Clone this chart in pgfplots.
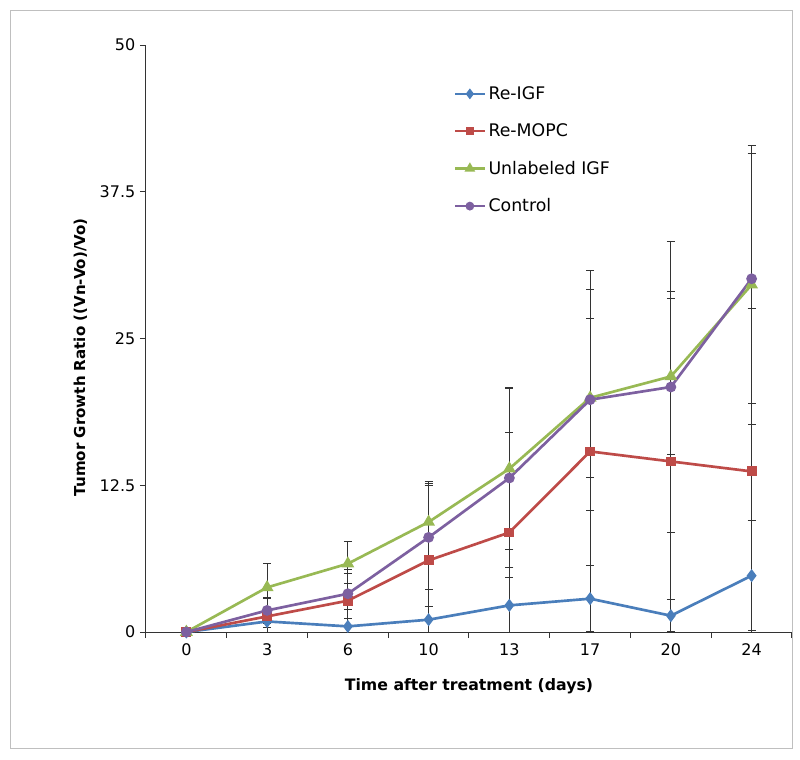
\documentclass[border=0pt]{standalone}
\usepackage{fontspec}
\setmainfont{DejaVu Sans}
\usepackage{pgfplots}
\pgfplotsset{compat=1.18}
\usepackage{pgfplotstable}
\definecolor{cblue}{HTML}{4A7EBB}
\definecolor{cred}{HTML}{BE4B48}
\definecolor{cgreen}{HTML}{98B954}
\definecolor{cpurple}{HTML}{7D60A0}

\pgfplotstableread{
x y ep em
0 0 0 0
1 0.90 0.50 0.50
2 0.48 1.42 0.48
3 1.05 1.13 1.05
4 2.27 2.38 2.27
5 2.84 2.81 2.81
6 1.39 1.42 1.39
7 4.80 4.70 4.70
}\igf
\pgfplotstableread{
x y ep em
0 0 0 0
1 1.33 1.51 1.33
2 2.67 2.30 2.30
3 6.10 6.53 6.10
4 8.48 8.56 8.48
5 15.38 15.40 15.38
6 14.53 14.47 14.47
7 13.68 13.86 13.68
}\mopc
\pgfplotstableread{
x y ep em
0 0 0 0
1 3.80 2.08 2.08
2 5.82 1.90 1.65
3 9.37 3.46 3.46
4 13.91 6.90 6.90
5 19.95 6.75 6.75
6 21.77 6.63 6.63
7 29.58 11.87 11.87
}\unl
\pgfplotstableread{
x y ep em
0 0 0 0
1 1.84 1.14 1.14
2 3.26 2.11 2.11
3 8.06 4.40 4.40
4 13.12 7.60 7.60
5 19.79 9.40 9.40
6 20.87 12.40 12.40
7 30.09 10.65 10.65
}\ctrl

\begin{document}
\begin{tikzpicture}
\begin{axis}[
  scale only axis,
  width=484.5pt, height=440.25pt,
  xmin=-0.5, xmax=7.5, ymin=0, ymax=50,
  axis lines*=left,
  axis line style={black!80, line width=0.75pt},
  clip=false,
  xtick={-0.5,0.5,1.5,2.5,3.5,4.5,5.5,6.5,7.5},
  xticklabel=\empty,
  extra x ticks={0,1,2,3,4,5,6,7},
  extra x tick labels={0,3,6,10,13,17,20,24},
  extra x tick style={major tick length=0pt, xticklabel style={yshift=-5pt}},
  ytick={0,12.5,25,37.5,50},
  yticklabels={0,12.5,25,37.5,50},
  tick align=outside,
  major tick length=4.5pt,
  tick style={black!80, line width=0.75pt},
  ticklabel style={font=\fontsize{12}{14}\selectfont},
  /pgf/number format/assume math mode=true,
  xlabel={Time after treatment (days)},
  ylabel={Tumor Growth Ratio ((Vn-Vo)/Vo)},
  xlabel style={font=\bfseries\fontsize{11.8}{14}\selectfont, at={(rel axis cs:0.5,-0.072)}, anchor=north},
  ylabel style={font=\bfseries\fontsize{11.3}{14}\selectfont, at={(rel axis cs:-0.084,0.468)}, anchor=south},
  legend style={at={(rel axis cs:0.47,0.939)}, anchor=north west, draw=none, fill=none,
    row sep=12.8pt, font=\fontsize{13}{15}\selectfont},
  legend cell align=left,
  legend image code/.code={\draw[mark repeat=2,mark phase=2,#1,mark options={solid,scale=0.75}]
    plot coordinates {(0pt,0pt)(11pt,0pt)(22pt,0pt)};},
  every axis plot/.append style={line width=2pt},
  error bars/y dir=both,
  error bars/y explicit,
  error bars/error bar style={black!80, line width=0.6pt},
  error bars/error mark options={rotate=90, mark size=3pt, black!80, line width=0.6pt},
]
\coordinate (BL) at (rel axis cs:-0.226,-0.218);
\coordinate (TR) at (rel axis cs:1.0124,1.0767);
\draw[black!25, line width=0.75pt] (rel axis cs:-0.2105,-0.1976) rectangle (rel axis cs:1.0015,1.0596);
\addplot[color=cblue, mark=diamond*, mark size=3.3pt, mark options={solid}]
  table[x=x, y=y, y error plus=ep, y error minus=em] {\igf};
\addlegendentry{Re-IGF}
\addplot[color=cred, mark=square*, mark size=2.7pt, mark options={solid}]
  table[x=x, y=y, y error plus=ep, y error minus=em] {\mopc};
\addlegendentry{Re-MOPC}
\addplot[color=cgreen, mark=triangle*, mark size=3.6pt, mark options={solid}]
  table[x=x, y=y, y error plus=ep, y error minus=em] {\unl};
\addlegendentry{Unlabeled IGF}
\addplot[color=cpurple, mark=*, mark size=3pt, mark options={solid}]
  table[x=x, y=y, y error plus=ep, y error minus=em] {\ctrl};
\addlegendentry{Control}
\end{axis}
\pgfresetboundingbox
\path (BL) rectangle (TR);
\end{tikzpicture}
\end{document}
